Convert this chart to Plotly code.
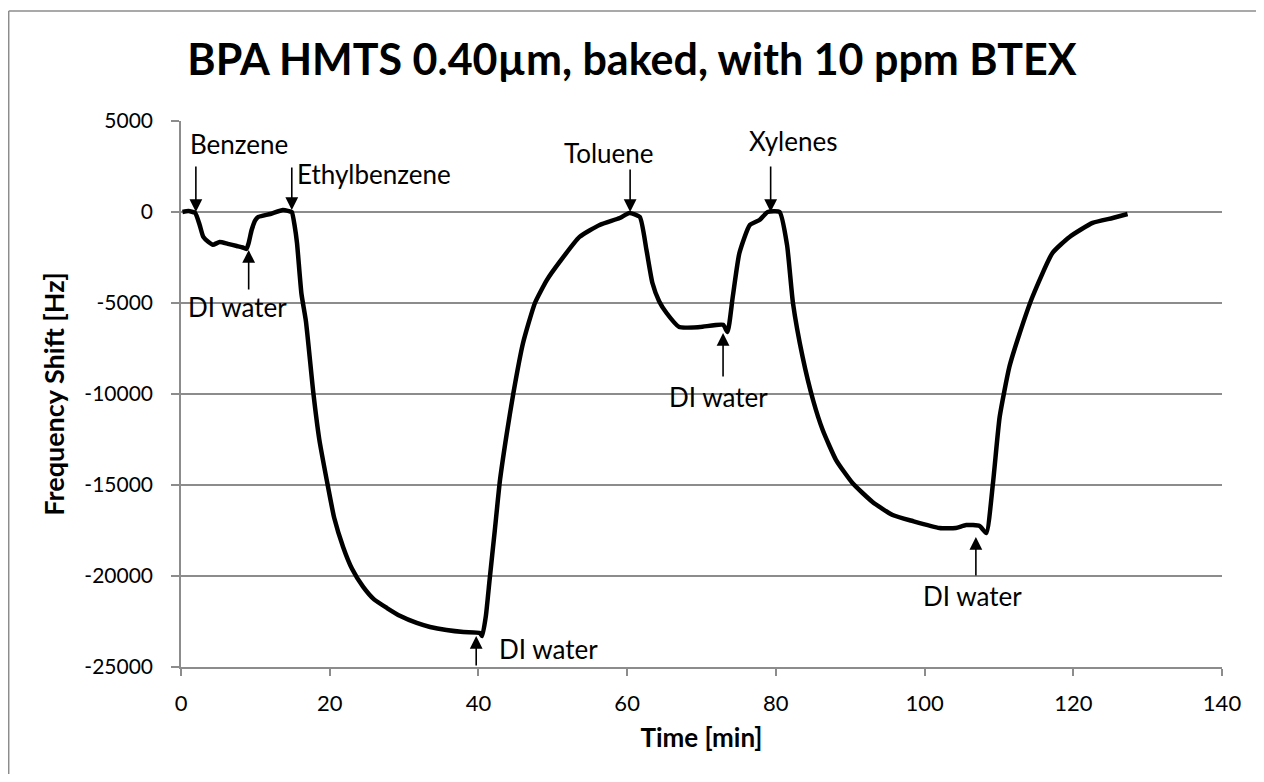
import plotly.graph_objects as go

# Frequency shift trace
time_min = [
    0.2, 1.0, 1.9, 2.5, 3.0, 3.7, 4.3, 5.2, 6.3, 7.5, 8.3, 8.8, 9.1, 9.5, 10.0,
    10.4, 12.0, 13.7, 14.5, 14.9, 15.3, 15.6, 16.2, 16.8, 17.8, 18.6, 19.6,
    20.6, 21.8, 23.0, 24.5, 26.0, 27.7, 29.5, 31.7, 33.5, 35.7, 38.0, 40.2,
    40.5, 41.0, 41.5, 42.2, 42.9, 43.8, 44.7, 46.0, 47.6, 49.2, 51.0, 53.6,
    56.3, 59.0, 60.3, 61.7, 62.6, 63.4, 64.3, 65.3, 67.0, 69.8, 72.9, 73.5,
    74.2, 75.1, 76.5, 77.8, 78.9, 80.5, 81.5, 82.3, 83.6, 85.0, 86.3, 88.1,
    90.3, 93.0, 95.7, 98.4, 102.0, 104.2, 105.6, 107.4, 108.3, 109.2, 110.1,
    111.4, 112.8, 114.5, 117.2, 119.5, 122.6, 125.3, 127.3,
]
shift_hz = [
    0, 50, -50, -700, -1370, -1650, -1800, -1650, -1750, -1870, -1950, -2030,
    -1700, -990, -450, -270, -110, 110, 50, 0, -800, -1700, -4500, -6000,
    -9950, -12500, -14730, -16800, -18400, -19600, -20600, -21300, -21760,
    -22200, -22580, -22800, -22970, -23080, -23130, -23300, -22200, -20220,
    -17500, -14730, -12200, -9950, -7200, -5000, -3740, -2700, -1370, -710,
    -330, -50, -270, -2090, -3900, -4900, -5550, -6320, -6320, -6200, -6590,
    -4670, -2250, -710, -440, 0, 0, -1800, -5000, -7970, -10330, -11980,
    -13630, -14890, -15930, -16650, -16980, -17360, -17360, -17200, -17250,
    -17640, -14890, -11260, -8520, -6650, -4670, -2250, -1370, -600, -330,
    -110,
]

y_tick_vals = [5000, 0, -5000, -10000, -15000, -20000, -25000]
y_tick_text = ["5000", "0", "-5000", "-10000", "-15000", "-20000", "-25000"]

# event labels: text, text position, arrow tip, arrow tail offset (px)
labels = ["Benzene", "Ethylbenzene", "DI water", "DI water",
          "Toluene", "Xylenes", "DI water", "DI water"]
label_t = [0.9, 15.3, 0.7, 42.5, 51.2, 76.1, 65.4, 99.5]
label_y = [3740, 2115, -5220, -24010, 3240, 3900, -10170, -21100]
tip_t = [2.0, 14.9, 9.1, 39.7, 60.4, 79.3, 72.9, 106.9]
tip_y = [0, 110, -2090, -23300, 0, 0, -6650, -17860]
tail_dy = [-47, -44, 41, 31, -44, -47, 45, 40]

FONT = "Lato"
GRID = "#8c8c8c"

fig = go.Figure()
fig.add_trace(
    go.Scatter(
        x=time_min,
        y=shift_hz,
        mode="lines",
        line=dict(color="black", width=4.5, shape="spline", smoothing=0.5),
        showlegend=False,
    )
)

for txt, lx, ly, tx, ty, dy in zip(labels, label_t, label_y, tip_t, tip_y, tail_dy):
    fig.add_annotation(
        x=tx, y=ty, ax=0, ay=dy, text="", showarrow=True,
        arrowhead=2, arrowsize=1.6, arrowwidth=1.6, arrowcolor="black",
    )
    fig.add_annotation(
        x=lx, y=ly, text=txt, showarrow=False, xanchor="left", yanchor="middle",
        font=dict(family=FONT, size=26, color="black"),
    )

# outer chart frame: only its top and left edges fall inside the window
fig.add_shape(type="line", xref="paper", yref="paper",
              x0=-0.1655, x1=1.2, y0=1.2015, y1=1.2015,
              line=dict(color=GRID, width=1.5), layer="below")
fig.add_shape(type="line", xref="paper", yref="paper",
              x0=-0.1655, x1=-0.1655, y0=-0.3, y1=1.2015,
              line=dict(color=GRID, width=1.5), layer="below")

# page body adds 8px margin, so the figure is 16px smaller than the window
fig.update_layout(
    width=1248,
    height=766,
    margin=dict(l=173, r=34, t=113, b=107),
    paper_bgcolor="white",
    plot_bgcolor="white",
    font=dict(family=FONT, color="black"),
    title=dict(
        text="<b>BPA HMTS 0.40µm, baked, with 10 ppm BTEX</b>",
        x=0.5, xanchor="center", y=0.932, yanchor="middle",
        font=dict(family=FONT, size=43, color="black"),
    ),
    xaxis=dict(
        range=[0, 140], dtick=20, showgrid=False, zeroline=False,
        showline=True, linecolor=GRID, linewidth=1.5,
        ticks="outside", ticklen=7, tickcolor=GRID, tickwidth=1.5,
        ticklabelstandoff=9, automargin=False,
        tickfont=dict(size=22),
        title=dict(text="<b>Time [min]</b>", font=dict(size=26), standoff=14),
    ),
    yaxis=dict(
        range=[-25000, 5000], tickvals=y_tick_vals, ticktext=y_tick_text,
        showgrid=True, gridcolor=GRID,
        gridwidth=1.5, zeroline=False, showline=True, linecolor=GRID,
        linewidth=1.5, ticks="outside", ticklen=8, tickcolor=GRID, tickwidth=1.5,
        ticklabelstandoff=14, automargin=False,
        tickfont=dict(size=21),
        title=dict(text="<b>Frequency Shift [Hz]</b>", font=dict(size=27), standoff=12),
    ),
)

fig.write_html("out.html")
